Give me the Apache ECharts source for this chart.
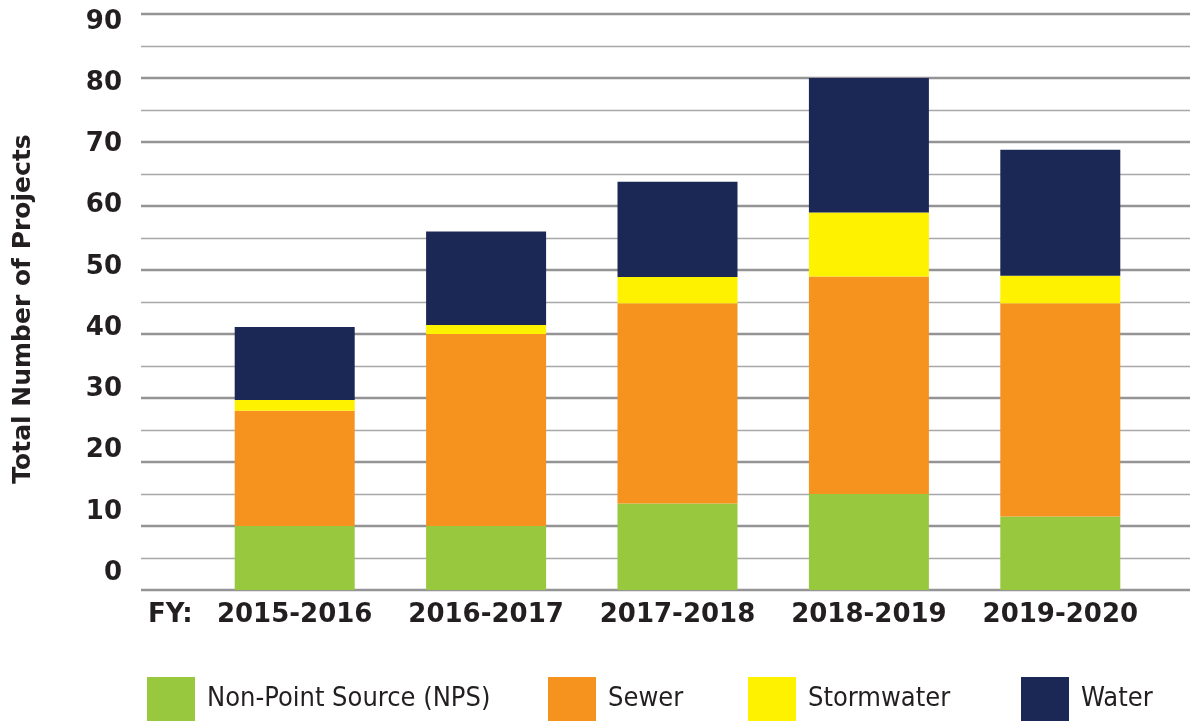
<!DOCTYPE html>
<html>
<head>
<meta charset="utf-8">
<script src="https://cdn.jsdelivr.net/npm/echarts@6/dist/echarts.min.js"></script>
<style>
  html, body { margin: 0; padding: 0; background: #fff; }
  #chart { width: 1190px; height: 721px; }
</style>
</head>
<body>
<div id="chart"></div>
<script>
// fiscal years
const years = ['2015-2016', '2016-2017', '2017-2018', '2018-2019', '2019-2020']
// projects per type
const nps = [10, 10, 13.5, 15, 11.5]
const sewer = [18, 30, 31.3, 34, 33.3]
const stormwater = [1.7, 1.4, 4.1, 10, 4.3]
const water = [11.4, 14.6, 14.9, 21, 19.7]
const yTicks = [0, 90, 10]

const colors = ['#97c83e', '#f6921e', '#fff200', '#1b2856']
const names = ['Non-Point Source (NPS)', 'Sewer', 'Stormwater', 'Water']
const boldFont = "'DejaVu Sans', sans-serif"
const legendFont = "'DejaVu Sans Condensed', 'Liberation Sans Narrow', 'DejaVu Sans', sans-serif"
const textColor = '#231f20'

const chart = echarts.init(document.getElementById('chart'))

const legendLefts = [147, 548, 748, 1021]
const legends = names.map((name, i) => ({
  data: [name],
  left: legendLefts[i],
  top: 677,
  padding: 0,
  orient: 'horizontal',
  itemWidth: 48,
  itemHeight: 44,
  icon: 'rect',
  selectedMode: false,
  textStyle: {
    fontFamily: legendFont,
    fontSize: 27,
    color: textColor,
    padding: [0, 0, 0, 7]
  }
}))

const seriesData = [nps, sewer, stormwater, water]

chart.setOption({
  animation: false,
  backgroundColor: '#ffffff',
  legend: legends,
  grid: [
    // gridlines
    { left: 141, right: -10, top: 14, bottom: 131 },
    // bars
    { left: 199, right: 34, top: 14, bottom: 131 },
    // tick labels
    { left: 141, right: 0, top: 22, bottom: 148 }
  ],
  xAxis: [
    { gridIndex: 0, type: 'value', show: false, min: 0, max: 1 },
    {
      gridIndex: 1,
      type: 'category',
      data: years,
      axisLine: { show: false },
      axisTick: { show: false },
      axisLabel: {
        interval: 0,
        fontFamily: boldFont,
        fontWeight: 'bold',
        fontSize: 26,
        color: textColor,
        margin: 10,
        lineHeight: 30
      }
    },
    { gridIndex: 2, type: 'value', show: false, min: 0, max: 1 }
  ],
  yAxis: [
    {
      gridIndex: 0,
      type: 'value',
      min: yTicks[0],
      max: yTicks[1],
      interval: yTicks[2],
      axisLine: { show: false },
      axisTick: { show: false },
      axisLabel: { show: false },
      splitLine: { show: true, lineStyle: { color: '#949497', width: 2.4 } },
      minorTick: { show: false, splitNumber: 2 },
      minorSplitLine: { show: true, lineStyle: { color: '#a8a8aa', width: 1.3 } }
    },
    {
      gridIndex: 1,
      type: 'value',
      min: yTicks[0],
      max: yTicks[1],
      interval: yTicks[2],
      show: false,
      splitLine: { show: false }
    },
    {
      gridIndex: 2,
      type: 'value',
      min: yTicks[0],
      max: yTicks[1],
      interval: yTicks[2],
      axisLine: { show: false },
      axisTick: { show: false },
      splitLine: { show: false },
      axisLabel: {
        fontFamily: boldFont,
        fontWeight: 'bold',
        fontSize: 26,
        color: textColor,
        margin: 19
      }
    }
  ],
  graphic: [
    {
      type: 'text',
      x: 23,
      y: 309,
      rotation: Math.PI / 2,
      style: {
        text: 'Total Number of Projects',
        fontFamily: boldFont,
        fontWeight: 'bold',
        fontSize: 25,
        fill: textColor,
        textAlign: 'center',
        textVerticalAlign: 'middle'
      }
    },
    {
      type: 'text',
      x: 148,
      y: 615,
      style: {
        text: 'FY:',
        fontFamily: boldFont,
        fontWeight: 'bold',
        fontSize: 26,
        fill: textColor,
        textAlign: 'left',
        textVerticalAlign: 'middle'
      }
    }
  ],
  series: names.map((name, i) => ({
    name: name,
    type: 'bar',
    stack: 'total',
    xAxisIndex: 1,
    yAxisIndex: 1,
    barWidth: 120,
    itemStyle: { color: colors[i] },
    data: seriesData[i]
  }))
})
</script>
</body>
</html>
